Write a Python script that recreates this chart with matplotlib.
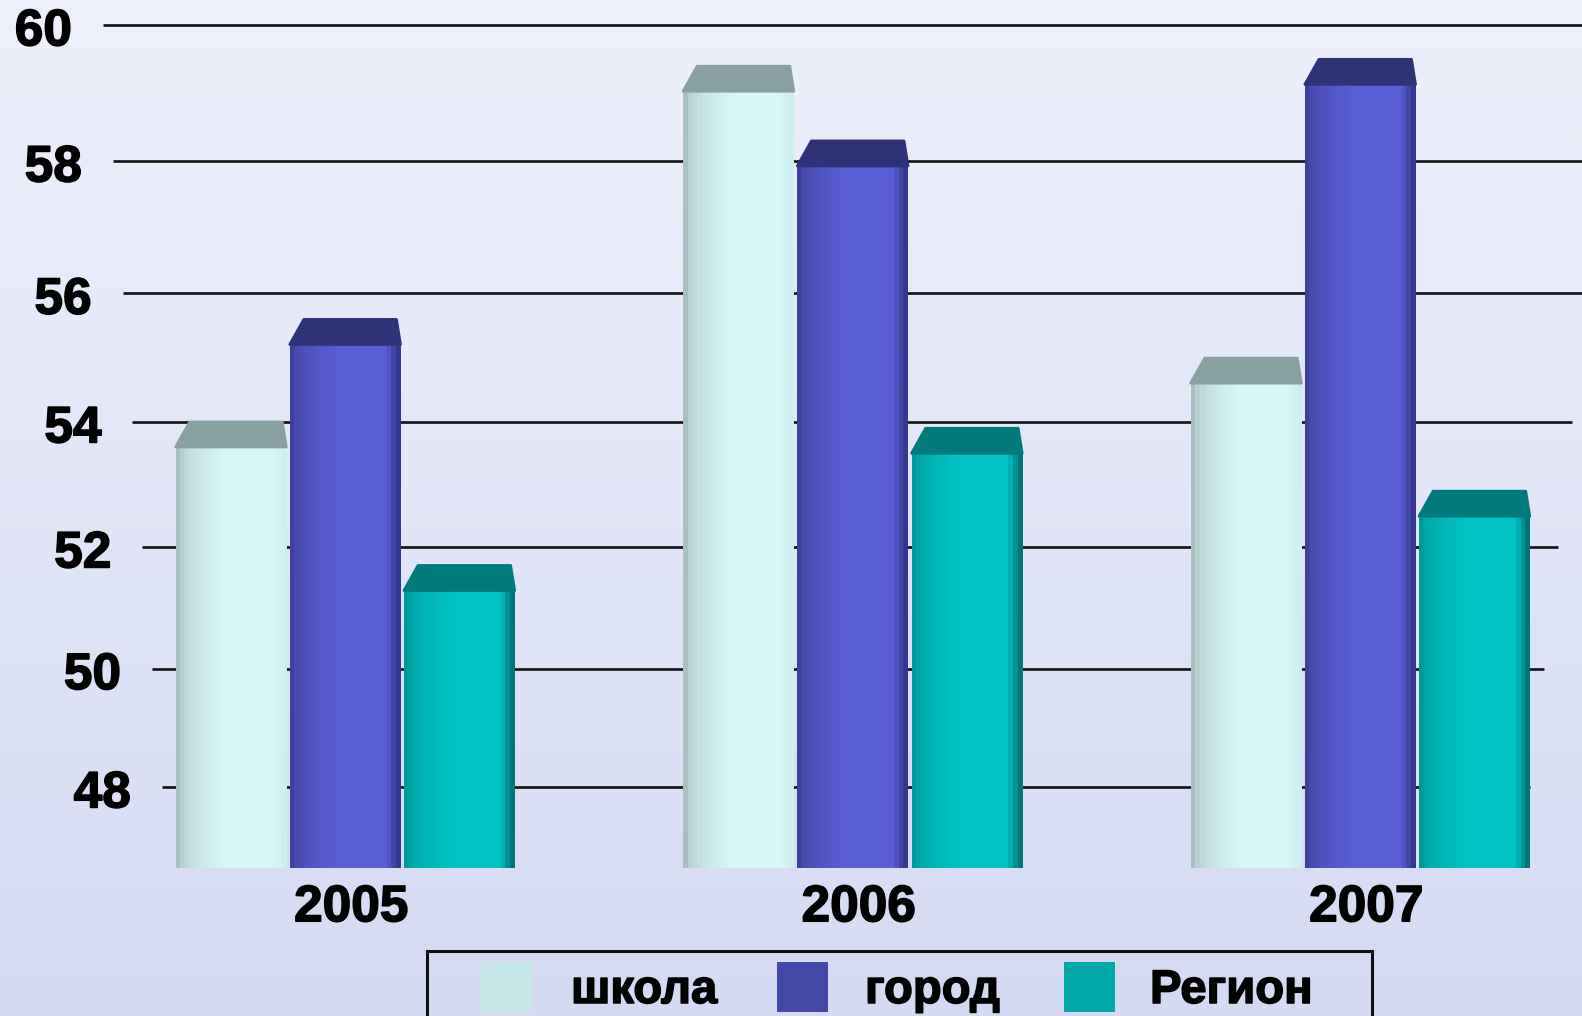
import numpy as np
import matplotlib.pyplot as plt
import matplotlib.patheffects as pe
from matplotlib.patches import Polygon, Rectangle
from matplotlib.colors import to_rgb

# data
years = ['2005', '2006', '2007']
series = ['школа', 'город', 'Регион']
shkola = [54.0, 59.4, 55.0]
gorod = [55.6, 58.3, 59.5]
region = [51.7, 53.9, 52.9]
yticks = [48, 50, 52, 54, 56, 58, 60]

values = [shkola, gorod, region]
# front face gradient (left, mid, right), top face, legend swatch
front = [('#a9c0c1', '#d8f7f9', '#cfeef0'),
         ('#3e4199', '#5a5ed6', '#34378a'),
         ('#009999', '#00c4c4', '#007676')]
tops = ['#88a1a0', '#2f3276', '#007a7a']
swatch = ['#c6e6e8', '#4449a8', '#00a8a8']

W, H = 1582, 1016
fig = plt.figure(figsize=(W / 100, H / 100), dpi=100)
heavy = [pe.withStroke(linewidth=1.1, foreground='black')]
font = 'Liberation Sans'

# background gradient
bg = fig.add_axes([0, 0, 1, 1], zorder=0)
grad = np.linspace(0, 1, 256)[:, None]
c1, c2 = np.array(to_rgb('#eef1fb')), np.array(to_rgb('#d5daf3'))
bg.imshow(c1 + grad[..., None] * (c2 - c1), aspect='auto', extent=[0, 1, 0, 1], origin='upper')
bg.set_xlim(0, 1)
bg.set_ylim(0, 1)
bg.axis('off')

# perspective-ish vertical scale
c = 0.00672
fwd = lambda v: (np.asarray(v) - 48) / (1 - c * (np.asarray(v) - 48))
inv = lambda f: 48 + np.asarray(f) / (1 + c * np.asarray(f))

base = 46.6
ax = fig.add_axes([0, (H - 868) / H, 1, 868 / H], zorder=1)
ax.set_facecolor('none')
ax.set_yscale('function', functions=(fwd, inv))
ax.set_ylim(base, 60.36)
ax.set_xlim(-0.680, 2.437)
for s in ax.spines.values():
    s.set_visible(False)
ax.set_yticks([])

# gridlines with slanted starts, labels next to them
ytr = ax.get_yaxis_transform()
for v in yticks:
    x0 = (103 + (60 - v) * 4.9) / W
    x1 = min(1.0, (1530 + (v - 48) * 7) / W)
    ax.plot([x0, x1], [v, v], color='#111111', lw=1.9, zorder=1,
            transform=ytr, solid_capstyle='butt')
    ax.annotate(str(v), (x0 - 31 / W, v), xycoords=ytr, xytext=(0, -5),
                textcoords='offset points', ha='right', va='center',
                fontsize=37, fontweight='bold', family=font, path_effects=heavy)

x = np.arange(len(years))
step = 0.225
bw = 0.218
nstrip = 24
top_px = 25

for i, vals in enumerate(values):
    cl, cm, cr = [np.array(to_rgb(cc)) for cc in front[i]]
    t = np.linspace(0, 1, nstrip)
    cols = []
    for tt in t:
        if tt < 0.45:
            cols.append(cl + (cm - cl) * (tt / 0.45) ** 0.5)
        elif tt < 0.88:
            cols.append(cm)
        else:
            cols.append(cm + (cr - cm) * ((tt - 0.88) / 0.12))
    for j, v in enumerate(vals):
        xc = x[j] + (i - 1) * step
        x0 = xc - bw / 2
        # front face top, a fixed number of pixels under the value
        px, py = ax.transData.transform((xc, v))
        vt = ax.transData.inverted().transform((px, py - top_px))[1]
        lefts = x0 + bw * np.arange(nstrip) / nstrip
        ax.bar(lefts, vt - base, bottom=base, width=bw / nstrip * 1.08,
               align='edge', color=cols, linewidth=0, zorder=3)
        # top face
        pl = ax.transData.transform((x0, vt))
        pr = ax.transData.transform((x0 + bw, vt))
        pts = [pl, pr, (pr[0] - 4, pr[1] + top_px), (pl[0] + 14, pl[1] + top_px)]
        poly = ax.transData.inverted().transform(pts)
        ax.add_patch(Polygon(poly, closed=True, facecolor=tops[i],
                             edgecolor=tops[i], lw=2, joinstyle='round', zorder=3))

ax.set_xticks(x + 0.012)
ax.set_xticklabels(years, fontsize=37, fontweight='bold', family=font)
for lab in ax.get_xticklabels():
    lab.set_path_effects(heavy)
ax.tick_params(axis='x', length=0, pad=11)

# legend box, cut by the bottom edge
px2fig = lambda xp, yp: (xp / W, 1 - yp / H)
fig.patches.append(Rectangle(px2fig(427, 1030), 945 / W, 79 / H, transform=fig.transFigure,
                             facecolor='none', edgecolor='#111111', lw=2.2, zorder=5))
sw_x = [481, 777, 1064]
tx_x = [571, 865, 1150]
for k in range(len(series)):
    fig.patches.append(Rectangle(px2fig(sw_x[k], 1012), 51 / W, 50 / H,
                                 transform=fig.transFigure, facecolor=swatch[k],
                                 edgecolor='none', zorder=5))
    fig.text(*px2fig(tx_x[k], 991), series[k], ha='left', va='center', fontsize=34,
             fontweight='bold', family=font, path_effects=heavy, zorder=6)

fig.savefig('out.png', dpi=100)
